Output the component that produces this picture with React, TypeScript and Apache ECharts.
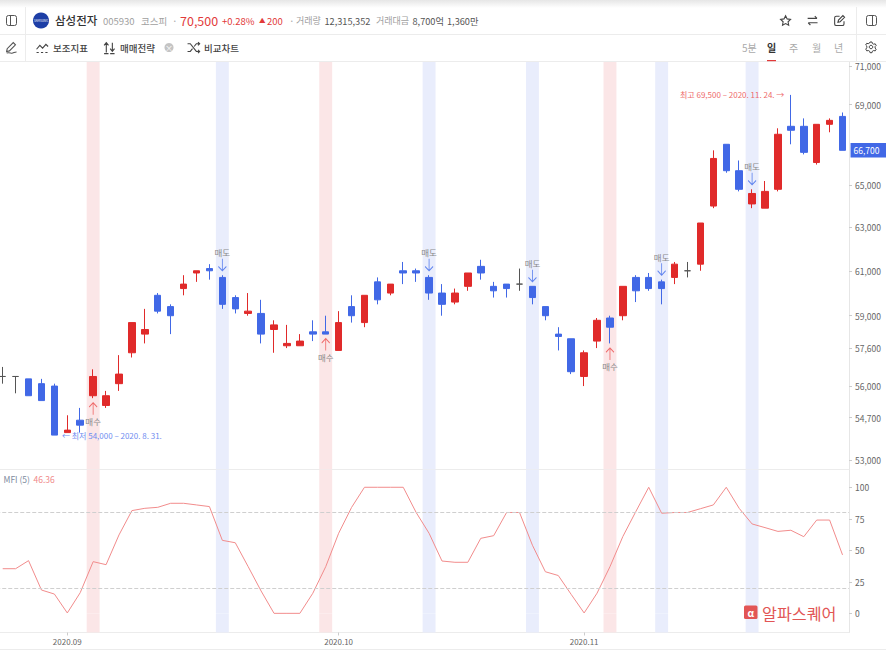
import React, { useEffect, useRef } from "react";
import * as echarts from "echarts";

const dates = [
  "2020.08.25","2020.08.26","2020.08.27","2020.08.28","2020.08.31",
  "2020.09.01","2020.09.02","2020.09.03","2020.09.04","2020.09.07","2020.09.08","2020.09.09","2020.09.10","2020.09.11",
  "2020.09.14","2020.09.15","2020.09.16","2020.09.17","2020.09.18","2020.09.21","2020.09.22","2020.09.23","2020.09.24","2020.09.25",
  "2020.09.28","2020.09.29",
  "2020.10.05","2020.10.06","2020.10.07","2020.10.08","2020.10.12","2020.10.13","2020.10.14","2020.10.15","2020.10.16",
  "2020.10.19","2020.10.20","2020.10.21","2020.10.22","2020.10.23","2020.10.26","2020.10.27","2020.10.28","2020.10.29","2020.10.30",
  "2020.11.02","2020.11.03","2020.11.04","2020.11.05","2020.11.06","2020.11.09","2020.11.10","2020.11.11","2020.11.12","2020.11.13",
  "2020.11.16","2020.11.17","2020.11.18","2020.11.19","2020.11.20","2020.11.23","2020.11.24","2020.11.25","2020.11.26","2020.11.27","2020.11.30",
];
const opens = [56400,56400,56300,56100,56000,54100,54600,55600,55200,56100,57400,58200,59900,59400,60200,60900,61100,60700,59800,59100,59100,58400,57700,57700,58300,58300,57500,59400,58700,60500,60000,61000,61000,60700,60000,59600,60300,61200,60300,60400,60400,60300,59400,58200,58000,56400,57900,58900,59000,60700,60700,60500,60700,61000,61300,64000,67000,65700,64100,63900,64800,67900,67900,66100,68000,68400];
const closes = [56400,56400,55600,55400,54000,54200,54400,56400,55600,56500,58700,58400,59200,59000,60400,61000,61000,59500,59300,59200,58200,58600,57800,57900,58200,58200,58700,59000,59900,59700,60400,60900,60900,60000,59500,60000,60900,60900,60100,60200,60400,59800,59000,58100,56600,57400,58800,58500,60300,60100,60200,60200,61300,61000,63200,66300,65700,64800,64600,64700,67500,67700,66600,68000,68200,66700];
const lows = [56100,55700,55600,55400,54000,54100,54100,55500,55100,55800,57200,57800,59100,58200,59900,60500,60600,59300,59100,59000,57800,57400,57600,57700,57900,58200,57500,58700,58500,59500,59900,60400,60500,59700,59000,59500,60100,60600,59800,59800,60100,59500,58800,57500,56500,56000,57600,57800,58800,59600,60100,59500,60400,60700,61000,63900,65600,64700,63900,63900,64700,67000,66500,66000,67600,66700];
const highs = [56800,56400,56300,56300,56100,54800,55100,56700,55800,57300,58700,59300,60000,59500,60800,61000,61300,60800,59900,60000,59700,58800,58600,58200,58800,59000,59200,59900,59900,60700,60400,61400,61100,60800,60400,60200,60900,61500,60500,60400,61100,60300,59400,58500,58000,57500,58900,59000,60300,60800,60900,60600,61400,61400,63200,66700,67000,66200,64800,65200,67800,69500,68300,68000,68300,68600];
const mfi = [35.4,35.4,41.8,18.5,15.3,0.3,16.4,41,38.6,62.2,81.5,83.3,84.1,87.3,87.3,86,84.7,57.9,56,37,17.7,0,0,0,15.9,37,63.5,84,100,100,100,100,80,63.5,41.5,40.5,40.5,59.5,61.6,80,80,54,33,30,15,0.3,16,37,61,80.7,100,79.4,80,80,83,86,100,83.3,70.9,68,65,65.9,60.8,74,74,46.36];
const buyIdx = [7, 25, 47];
const sellIdx = [17, 33, 41, 51, 58];
const priceTicks = [71000, 69000, 65000, 63000, 61000, 59000, 57600, 56000, 54700, 53000];
const mfiTicks = [0, 25, 50, 75, 100];
const monthStarts = [5, 26, 45];
const mfiGuides = [80, 20];
const lowIdx = 4, lowPrice = 54000;
const highIdx = 61, highPrice = 69500;
const lastPrice = 66700;

const RED = "#e02a2a", BLUE = "#4168e6", PINK = "#fbe6e7", PALE = "#e9edfc";
const FONT = '"Noto Sans CJK KR", "Noto Sans", sans-serif';
// The chart's div starts left of the page so the first candle can sit partly against the page edge.
const BLEED = 20;

const ln = (p: number) => Math.log(p);
const priceMin = ln(52659), priceMax = ln(71270);
const mfiMin = -15.2, mfiMax = 114.1;

const ICONS: Record<string, string> = {
  icStar: "M12 3l2.8 5.9 6.2.9-4.5 4.4 1.1 6.3-5.6-3-5.6 3 1.1-6.3L2.9 9.8l6.2-.9z",
  icSwap: "M3 8h17M16 4l4 4M21 16H4M8 20l-4-4",
  icEdit: "M20 13v5a3 3 0 0 1-3 3H6a3 3 0 0 1-3-3V7a3 3 0 0 1 3-3h6M9 15l1-4 8-8 3 3-8 8z",
  icGear: "M10 2h4l.8 3 2.6 1.4 3-.8 2 3.4-2.2 2.2v3l2.2 2.2-2 3.4-3-.8-2.6 1.4-.8 3h-4l-.8-3-2.6-1.4-3 .8-2-3.4L3.6 13.2v-3L1.4 8l2-3.4 3 .8L9.200 4zM12 8.500a3.500 3.500 0 1 0 .01 0z",
  icPen: "M3 19l1-5L15 3l4 4L8 18zM3 22c5-2 8 1 11 0s4-2 7-2",
  icInd: "M1 15l6-7 5 5 6-7 4 4M1 21h4M9 21h4M17 21h4",
  icTrade: "M6 3v18M2 8l4-5 4 5M2 23h8M17 3v16M13 14l4 5 4-5M13 23h8",
  icMix: "M1 5h5l11 14h6M1 19h5l4-5M13 10l4-5h6M20 2l3 3-3 3M20 16l3 3-3 3",
};
Object.entries(ICONS).forEach(([k, d]) => {
  echarts.graphic.registerShape(k, echarts.graphic.extendPath(d, {}));
});

const txt = (x: number, y: number, text: string, fontSize: number, fill: string, extra: any = {}) => ({
  type: "text", x, y, z: 50,
  style: { text, fontSize, fill, fontFamily: FONT, textVerticalAlign: "middle", verticalAlign: "middle", ...extra },
});
const line = (x1: number, y1: number, x2: number, y2: number, stroke = "#ececec") => ({
  type: "line", z: 40, shape: { x1, y1, x2, y2 }, style: { stroke, lineWidth: 1 },
});
const icon = (type: string, x: number, y: number, s: number, stroke = "#444", lineWidth = 2) => ({
  type, x, y, scaleX: s, scaleY: s, z: 50, style: { fill: "none", stroke, lineWidth },
});

const chrome: any[] = [
  { type: "rect", z: 39, shape: { x: -BLEED, y: 0, width: 886 + BLEED, height: 61 }, style: { fill: "#fff" } },
  {
    type: "rect", z: 40, shape: { x: -BLEED, y: 0, width: 886 + BLEED, height: 8 },
    style: { fill: new echarts.graphic.LinearGradient(0, 0, 0, 1, [{ offset: 0, color: "#e6e6e6" }, { offset: 1, color: "#ffffff" }]) },
  },
  line(0, 34.5, 886, 34.5), line(0, 61.5, 886, 61.5), line(25.5, 7, 25.5, 61), line(856.5, 7, 856.5, 61),
  { type: "rect", z: 50, shape: { x: 6.5, y: 15.5, width: 10, height: 10, r: 2 }, style: { fill: "none", stroke: "#555", lineWidth: 1 } },
  line(10.5, 15.5, 10.5, 25.5, "#555"),
  { type: "circle", z: 50, shape: { cx: 41, cy: 20.5, r: 8 }, style: { fill: "#1d3ea6" } },
  txt(41, 20.5, "SAMSUNG", 3, "#fff", { align: "center", textAlign: "center" }),
  txt(55, 20, "삼성전자", 11.5, "#333", { fontWeight: 500 }),
  txt(103, 20.5, "005930", 9.5, "#a0a0a0"),
  txt(141, 20.5, "코스피", 9.5, "#a0a0a0"),
  txt(172, 20.5, "·", 10, "#aaa"),
  txt(180, 20, "70,500", 12.5, "#e23a3a"),
  txt(222, 20.5, "+0.28%", 9.5, "#e23a3a"),
  txt(259, 20, "▲", 6.5, "#e23a3a"),
  txt(267, 20.5, "200", 9.5, "#e23a3a"),
  txt(289, 20.5, "·", 10, "#aaa"),
  txt(296, 20.5, "거래량", 9, "#a0a0a0"),
  txt(324.5, 20.5, "12,315,352", 9.2, "#555"),
  txt(376, 20.5, "거래대금", 9, "#a0a0a0"),
  txt(412.5, 20.5, "8,700억", 9.2, "#555"),
  txt(447, 20.5, "1,360만", 9.2, "#555"),
  icon("icStar", 779, 14, 0.55, "#444"),
  icon("icSwap", 806, 14, 0.55, "#444"),
  icon("icEdit", 833, 14, 0.55, "#444"),
  { type: "rect", z: 50, shape: { x: 866.5, y: 15.5, width: 10, height: 10, r: 2 }, style: { fill: "none", stroke: "#555", lineWidth: 1 } },
  line(872.5, 15.5, 872.5, 25.5, "#555"),
  icon("icPen", 5, 41, 0.55, "#555"),
  icon("icInd", 36, 41, 0.55, "#444"),
  txt(53, 47.5, "보조지표", 9.5, "#444", { fontWeight: 500 }),
  icon("icTrade", 103, 41, 0.55, "#444"),
  txt(120, 47.5, "매매전략", 9.5, "#444", { fontWeight: 500 }),
  { type: "circle", z: 50, shape: { cx: 169, cy: 47.5, r: 4.5 }, style: { fill: "#c4c4c4" } },
  txt(169, 47.5, "×", 8, "#fff", { align: "center", textAlign: "center" }),
  icon("icMix", 187, 41, 0.55, "#444"),
  txt(204, 47.5, "비교차트", 9.5, "#444", { fontWeight: 500 }),
  txt(742, 47.5, "5분", 10, "#aaa"),
  txt(767, 47.5, "일", 10, "#333", { fontWeight: 700 }),
  txt(789, 47.5, "주", 10, "#aaa"),
  txt(812, 47.5, "월", 10, "#aaa"),
  txt(834, 47.5, "년", 10, "#aaa"),
  { type: "rect", z: 50, shape: { x: 767, y: 60, width: 9, height: 1.2 }, style: { fill: "#e23a3a" } },
  icon("icGear", 865, 41, 0.5, "#444"),
  line(0, 649.5, 886, 649.5),
  txt(3.5, 479, "MFI (5)", 8.5, "#7d8ba0"),
  txt(33.5, 479, String(mfi[mfi.length - 1]), 8.5, "#f08a8a"),
  { type: "rect", z: 50, shape: { x: 744, y: 605.5, width: 13.5, height: 13.5, r: 1.5 }, style: { fill: "#e25555" } },
  txt(750.7, 612.5, "α", 10, "#fff", { align: "center", textAlign: "center", fontWeight: 700 }),
  txt(762, 612.5, "알파스퀘어", 16.2, "#e25555"),
];

const arrowUp = "path://M5 0V14M1 5L5 0L9 5";
const arrowDown = "path://M5 0V14M1 9L5 14L9 9";
const hidden = { color: "transparent", borderColor: "transparent" };

const signalLabel = (i: number, price: number, text: string, dy: number) => ({
  coord: [i, ln(price)], symbol: "circle", symbolSize: 1, itemStyle: hidden,
  label: { show: true, position: "inside", formatter: text, offset: [0, dy], fontSize: 8.5, color: "#8a8a8a", fontFamily: FONT },
});
const signalArrow = (i: number, price: number, path: string, color: string, dy: number) => ({
  coord: [i, ln(price)], symbol: path, symbolSize: [8, 12], symbolOffset: [0, dy],
  itemStyle: { color: "transparent", borderColor: color, borderWidth: 1 }, label: { show: false },
});

const markers: any[] = [
  ...buyIdx.flatMap((i) => [
    signalArrow(i, lows[i], arrowUp, "#ef6a6a", 10.5),
    signalLabel(i, lows[i], "매수", 23),
  ]),
  ...sellIdx.flatMap((i) => [
    signalArrow(i, highs[i], arrowDown, "#5f83ee", -10.5),
    signalLabel(i, highs[i], "매도", -23),
  ]),
  {
    coord: [lowIdx, ln(lowPrice)], symbol: "circle", symbolSize: 1, itemStyle: hidden,
    label: { show: true, position: "right", distance: 6, formatter: "← 최저 54,000 – 2020. 8. 31.", fontSize: 8, color: "#6f8df0", fontFamily: FONT },
  },
  {
    coord: [highIdx, ln(highPrice)], symbol: "circle", symbolSize: 1, itemStyle: hidden,
    label: { show: true, position: "left", distance: 5, formatter: "최고 69,500 – 2020. 11. 24. →", fontSize: 8, color: "#ee6b6b", fontFamily: FONT },
  },
  {
    coord: [dates.length - 1, ln(lastPrice)], symbol: "circle", symbolSize: 1, itemStyle: hidden,
    label: {
      show: true, position: "right", distance: 6.5, formatter: lastPrice.toLocaleString("en-US"),
      fontSize: 8.5, color: "#fff", backgroundColor: BLUE, padding: [3, 6, 3, 3], width: 30, fontFamily: FONT,
    },
  },
];

const bandData = (value: number) =>
  dates.map((_, i) =>
    buyIdx.includes(i) ? { value, itemStyle: { color: PINK } }
      : sellIdx.includes(i) ? { value, itemStyle: { color: PALE } }
      : null
  );

export default function App() {
  const ref = useRef<HTMLDivElement>(null);
  useEffect(() => {
    const chart = echarts.init(ref.current!, null, { renderer: "svg" });
    const isMonth = (idx: number) => monthStarts.includes(idx);
    chart.setOption({
      animation: false,
      backgroundColor: "#fff",
      textStyle: { fontFamily: FONT },
      grid: [
        { left: BLEED - 3.76, width: 852.76, top: 61, height: 408 },
        { left: BLEED - 3.76, width: 852.76, top: 469.5, height: 163 },
      ],
      xAxis: [
        {
          type: "category", gridIndex: 0, data: dates,
          axisLabel: { show: false }, axisTick: { show: false },
          axisLine: { show: true, onZero: false, lineStyle: { color: "#ececec" } }, splitLine: { show: false },
        },
        {
          type: "category", gridIndex: 1, data: dates,
          axisLine: { show: true, onZero: false, lineStyle: { color: "#ececec" } },
          axisTick: { show: true, length: 3, alignWithLabel: true, interval: (i: number) => isMonth(i), lineStyle: { color: "#ccc" } },
          axisLabel: {
            show: true, interval: (i: number) => isMonth(i), formatter: (v: string) => v.slice(0, 7),
            fontSize: 8, color: "#666", margin: 5, fontFamily: FONT,
          },
        },
      ],
      yAxis: [
        {
          type: "value", gridIndex: 0, position: "right", min: priceMin, max: priceMax,
          splitLine: { show: false },
          axisLine: { show: true, lineStyle: { color: "#e6e6e6" } },
          axisTick: { show: true, length: 3, customValues: priceTicks.map(ln), lineStyle: { color: "#ccc" } },
          axisLabel: {
            show: true, customValues: priceTicks.map(ln), margin: 6, fontSize: 8.5, color: "#666", fontFamily: FONT,
            showMinLabel: true, showMaxLabel: true,
            formatter: (v: number) => (Math.round(Math.exp(v) / 100) * 100).toLocaleString("en-US"),
          },
        },
        {
          type: "value", gridIndex: 1, position: "right", min: mfiMin, max: mfiMax,
          splitLine: { show: false },
          axisLine: { show: true, lineStyle: { color: "#e6e6e6" } },
          axisTick: { show: true, length: 3, customValues: mfiTicks, lineStyle: { color: "#ccc" } },
          axisLabel: { show: true, customValues: mfiTicks, margin: 6, fontSize: 8.5, color: "#666", fontFamily: FONT },
        },
      ],
      series: [
        {
          type: "bar", xAxisIndex: 0, yAxisIndex: 0, barWidth: "100%", silent: true, z: 1,
          data: bandData(priceMax),
        },
        {
          type: "bar", xAxisIndex: 1, yAxisIndex: 1, barWidth: "100%", silent: true, z: 1, stack: "band",
          data: bandData(mfiMax),
        },
        {
          type: "bar", xAxisIndex: 1, yAxisIndex: 1, barWidth: "100%", silent: true, z: 1, stack: "band",
          data: bandData(mfiMin),
        },
        {
          type: "candlestick", xAxisIndex: 0, yAxisIndex: 0, z: 3, barWidth: 7,
          data: dates.map((_, i) => [ln(opens[i]), ln(closes[i]), ln(lows[i]), ln(highs[i])]),
          itemStyle: {
            color: RED, color0: BLUE, borderColor: RED, borderColor0: BLUE, borderColorDoji: "#555", borderWidth: 1,
          },
          markPoint: { silent: true, animation: false, data: markers },
        },
        {
          type: "line", xAxisIndex: 1, yAxisIndex: 1, z: 3, data: mfi, symbol: "none", silent: true,
          lineStyle: { color: "#f28c8c", width: 1 },
          markLine: {
            silent: true, symbol: "none", animation: false, label: { show: false },
            lineStyle: { color: "#cfcfcf", type: "dashed", width: 1 },
            data: mfiGuides.map((yAxis) => ({ yAxis })),
          },
        },
      ],
      graphic: { elements: [{ type: "group", x: BLEED, y: 0, children: chrome }] },
    });
    return () => chart.dispose();
  }, []);
  return <div ref={ref} style={{ position: "absolute", left: -BLEED, top: 0, width: 886 + BLEED, height: 650 }} />;
}
